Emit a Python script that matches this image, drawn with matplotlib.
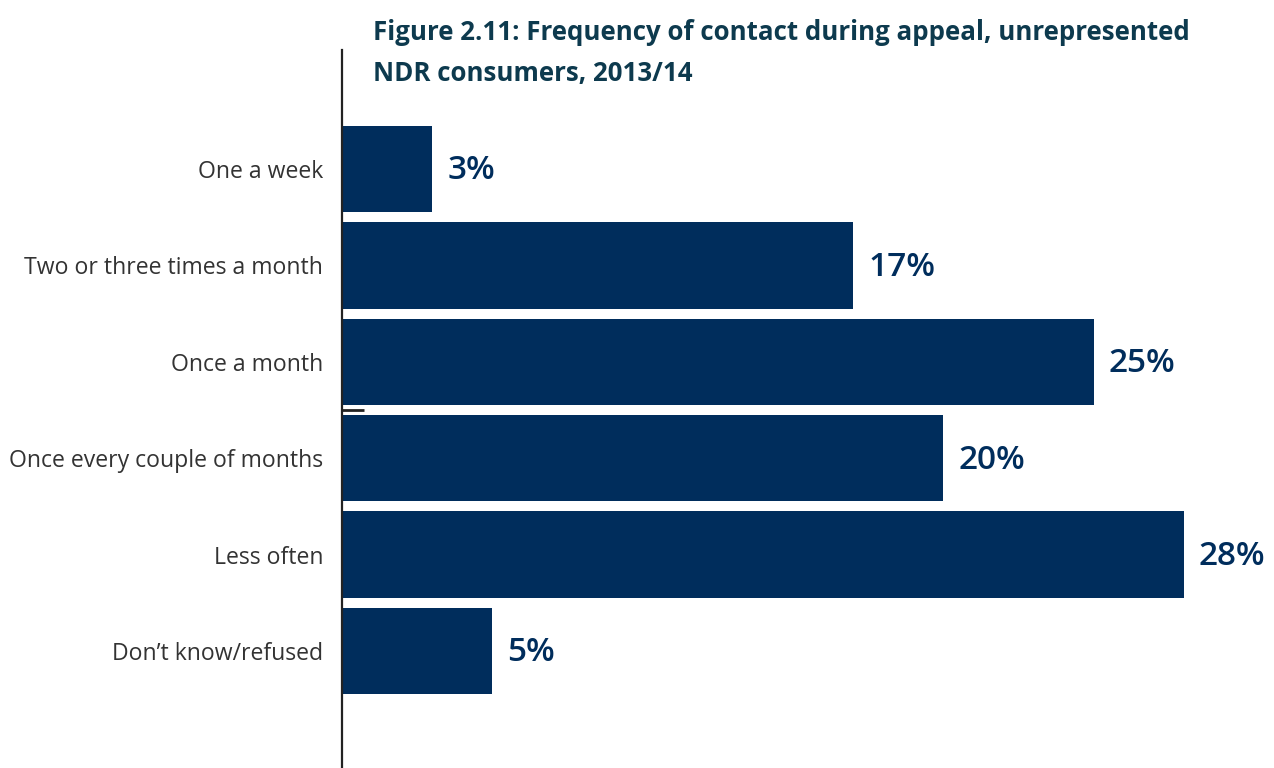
import matplotlib
matplotlib.use("Agg")
import matplotlib.pyplot as plt

# Survey responses, share of unrepresented NDR consumers
categories = [
    "One a week",
    "Two or three times a month",
    "Once a month",
    "Once every couple of months",
    "Less often",
    "Don\u2019t know/refused",
]
shares = [3, 17, 25, 20, 28, 5]

bar_color = "#002d5c"
title_color = "#0d3a4e"

plt.rcParams["font.family"] = ["Open Sans", "DejaVu Sans"]

fig = plt.figure(figsize=(12.74, 7.68), dpi=100)
ax = fig.add_axes([342 / 1274, 0, 932 / 1274, 718 / 768])

ypos = list(range(len(categories)))
ax.barh(ypos, shares, height=0.897, color=bar_color)

for y, v in zip(ypos, shares):
    ax.text(v + 0.5, y + 0.02, f"{v}%", va="center", ha="left",
            fontsize=24, fontweight="semibold", color=bar_color)

ax.set_xlim(0, 31.0)
ax.set_ylim(6.214, -1.234)

ax.set_yticks(ypos)
ax.set_yticklabels(categories, fontsize=16.6, color="#333333")
ax.tick_params(axis="y", length=0, pad=13.5)
ax.set_xticks([])

for side in ("top", "right", "bottom"):
    ax.spines[side].set_visible(False)
ax.spines["left"].set_color("#222222")
ax.spines["left"].set_linewidth(1.6)

# small stub on the axis between the third and fourth bars
ax.plot([0, 0.73], [2.5, 2.5], color="#222222", lw=2, solid_capstyle="butt")

fig.text(373 / 1274, 1 - 32 / 768,
         "Figure 2.11: Frequency of contact during appeal, unrepresented",
         fontsize=18.6, fontweight="bold", color=title_color,
         va="center", ha="left")
fig.text(373 / 1274, 1 - 74 / 768, "NDR consumers, 2013/14",
         fontsize=18.6, fontweight="bold", color=title_color,
         va="center", ha="left")

fig.savefig("out.png", dpi=100)
